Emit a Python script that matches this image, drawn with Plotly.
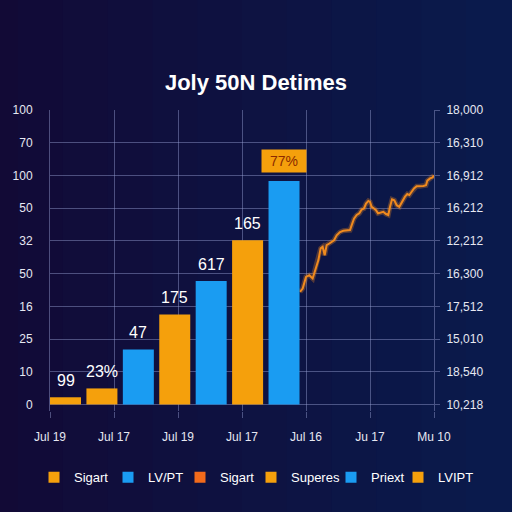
import plotly.graph_objects as go

# bars (heights in left-axis tick units)
bar_labels = ["99", "23%", "47", "175", "617", "165", "77%"]
bar_values = [0.22, 0.49, 1.68, 2.75, 3.77, 5.02, 6.83]
bar_colors = ["#F5A00C", "#F5A00C", "#1A9CF2", "#F5A00C", "#1A9CF2", "#F5A00C", "#1A9CF2"]

x_ticks = ["Jul 19", "Jul 17", "Jul 19", "Jul 17", "Jul 16", "Ju 17", "Mu 10"]
left_ticks = ["0", "10", "25", "16", "50", "32", "50", "100", "70", "100"]
right_ticks = ["10,218", "18,540", "15,010", "17,512", "16,300",
               "12,212", "16,212", "16,912", "16,310", "18,000"]

line_x = [3.906, 3.948, 4.0, 4.052, 4.104, 4.156, 4.193, 4.229, 4.26, 4.292,
          4.323, 4.365, 4.401, 4.438, 4.479, 4.531, 4.583, 4.635, 4.688, 4.714,
          4.75, 4.792, 4.833, 4.87, 4.906, 4.938, 4.974, 5.0, 5.026, 5.063,
          5.094, 5.125, 5.167, 5.208, 5.25, 5.286, 5.313, 5.344, 5.38, 5.417,
          5.458, 5.495, 5.547, 5.583, 5.615, 5.651, 5.688, 5.729, 5.781, 5.833,
          5.875, 5.896, 5.938, 5.979, 6.0]
line_y = [3.44, 3.54, 3.90, 3.95, 3.85, 4.20, 4.41, 4.77, 4.82, 4.56,
          4.87, 4.92, 4.97, 5.02, 5.17, 5.27, 5.31, 5.31, 5.33, 5.48,
          5.68, 5.79, 5.84, 5.96, 5.99, 6.14, 6.22, 6.19, 6.04, 5.99,
          5.94, 5.84, 5.86, 5.89, 5.82, 5.79, 6.04, 6.27, 6.24, 6.09,
          6.04, 6.19, 6.35, 6.43, 6.40, 6.50, 6.60, 6.67, 6.67, 6.68,
          6.70, 6.84, 6.91, 6.94, 7.00]

legend_names = ["Sigart", "LV/PT", "Sigart", "Superes", "Priext", "LVIPT"]
legend_colors = ["#F5A00C", "#1A9CF2", "#F26A1B", "#F5A00C", "#1A9CF2", "#F5A00C"]
legend_x = [34, 108, 180, 251, 331, 398]  # px from left, one legend box per item

FONT = "Liberation Sans, Arial, sans-serif"
GRID = "rgba(150,160,210,0.45)"

fig = go.Figure()

fig.add_trace(go.Bar(
    x=bar_labels, y=bar_values, marker_color=bar_colors, marker_line_width=0,
    xaxis="x2", yaxis="y", showlegend=False, hoverinfo="skip",
))

# glow + line
fig.add_trace(go.Scatter(
    x=line_x, y=line_y, mode="lines", xaxis="x", yaxis="y2",
    line=dict(color="rgba(245,140,30,0.3)", width=5), showlegend=False,
))
fig.add_trace(go.Scatter(
    x=line_x, y=line_y, mode="lines", xaxis="x", yaxis="y2",
    line=dict(color="#F08A1E", width=2), showlegend=False,
))

legends = {}
for i, (name, color, lx) in enumerate(zip(legend_names, legend_colors, legend_x)):
    key = "legend" if i == 0 else f"legend{i + 1}"
    fig.add_trace(go.Scatter(
        x=[None], y=[None], mode="markers", name=name, legend=key,
        marker=dict(symbol="square", size=11, color=color),
    ))
    legends[key] = dict(
        orientation="h", xref="container", yref="container",
        x=lx / 512, xanchor="left", y=0.068, yanchor="middle",
        font=dict(family=FONT, size=13, color="white"),
        bgcolor="rgba(0,0,0,0)", itemwidth=30,
    )

for i, (label, val) in enumerate(zip(bar_labels, bar_values)):
    if i == len(bar_labels) - 1:
        fig.add_annotation(
            x=i, y=val, xref="x2", yref="y", text=label, showarrow=False,
            yshift=20, bgcolor="#F5A00C", borderpad=3, width=38, height=16,
            font=dict(family=FONT, size=14, color="#8A2A00"),
        )
    else:
        fig.add_annotation(
            x=i, y=val, xref="x2", yref="y", text=label, showarrow=False,
            yshift=17, font=dict(family=FONT, size=16, color="white"),
        )

# background gradient approximation
n = 12
c0 = (18, 10, 54)
c1 = (10, 26, 76)
for i in range(n):
    t = i / (n - 1)
    c = tuple(round(a + (b - a) * t) for a, b in zip(c0, c1))
    fig.add_shape(
        type="rect", xref="paper", yref="paper", layer="below",
        x0=-0.2 + i * 1.4 / n, x1=-0.2 + (i + 1) * 1.4 / n + 0.01, y0=-0.5, y1=1.5,
        fillcolor=f"rgb{c}", line_width=0,
    )

fig.update_layout(
    width=512, height=512,
    margin=dict(l=50, r=78, t=110, b=101, autoexpand=False),
    paper_bgcolor="#0c1444", plot_bgcolor="rgba(0,0,0,0)",
    title=dict(text="<b>Joly 50N Detimes</b>", x=0.5, xanchor="center", y=0.855,
               font=dict(family=FONT, size=22, color="white")),
    font=dict(family=FONT, color="#E6E8F2"),
    bargap=0.149,
    xaxis=dict(
        range=[0, 6], tickvals=list(range(7)), ticktext=x_ticks,
        showgrid=True, gridcolor=GRID, gridwidth=1, zeroline=False,
        ticks="outside", ticklen=6, tickcolor=GRID, ticklabelstandoff=9,
        tickfont=dict(size=12, color="#E6E8F2"),
    ),
    xaxis2=dict(
        type="category", range=[-0.4256, 10.118], overlaying="x", visible=False,
    ),
    yaxis=dict(
        range=[-0.2, 9], tickvals=list(range(10)), ticktext=left_ticks,
        showgrid=True, gridcolor=GRID, gridwidth=1, zeroline=False,
        showline=True, linecolor=GRID, ticks="", ticklabelstandoff=14,
        tickfont=dict(size=12, color="#E6E8F2"),
    ),
    yaxis2=dict(
        range=[-0.2, 9], tickvals=list(range(10)), ticktext=right_ticks,
        overlaying="y", side="right", showgrid=False, zeroline=False,
        showline=True, linecolor=GRID, ticks="outside", ticklen=5,
        tickcolor=GRID, ticklabelstandoff=4,
        tickfont=dict(size=12, color="#E6E8F2"),
    ),
    **legends,
)

fig.write_html("out.html", config={"displayModeBar": False},
               post_script="document.body.style.margin='0';")
